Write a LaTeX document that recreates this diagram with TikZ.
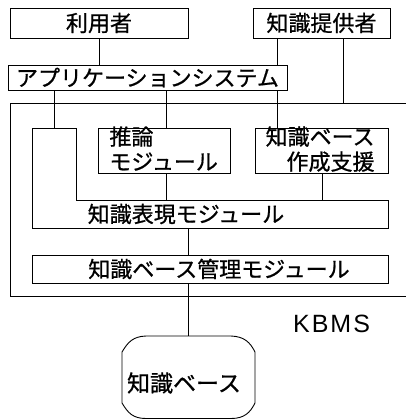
\documentclass[tikz,border=0pt]{standalone}
\usepackage{fontspec}
\setmainfont{Liberation Sans}
\newfontfamily\jp[FakeBold=0.8]{Noto Sans CJK JP}
\begin{document}
\begin{tikzpicture}[x=1pt,y=-1pt,line width=0.9pt,
  box/.style={draw,inner sep=0pt,font=\jp\fontsize{22}{25}\selectfont},
  txt/.style={inner sep=0pt,font=\jp\fontsize{22}{25}\selectfont}]
\useasboundingbox (0,0) rectangle (406,420);
% column coordinates
\coordinate (cA) at (54,0);
\coordinate (cB) at (166,0);
\coordinate (cC) at (277,0);
\coordinate (cD) at (343,0);
\coordinate (cE) at (322,0);
\coordinate (cF) at (188,0);
% top boxes
\node[box,minimum width=178pt,minimum height=30pt] (user) at (99,23) {利用者};
\node[box,minimum width=137pt,minimum height=30pt] (prov) at (321.5,23) {知識提供者};
\node[box,minimum width=279pt,minimum height=25pt] (app) at (147.5,77.5) {アプリケーションシステム};
% outer KBMS frame
\coordinate (outTL) at (10,103);
\coordinate (outBL) at (10,296);
\draw (406,103) -- (outTL) -- (outBL) -- (406,296);
% inner modules
\node[box,minimum width=132pt,minimum height=45pt] (inf) at (164,150.5) {};
\node[txt,anchor=north west,align=left] (inftxt) at (109,126) {推論\\モジュール};
\node[box,minimum width=133pt,minimum height=45pt] (kbs) at (321.5,150.5) {};
\node[txt,anchor=north east,align=right] (kbstxt) at (375,126) {知識ベース\\作成支援};
% knowledge representation module (notched shape)
\coordinate (colTL) at (32,128);
\coordinate (colTR) at (76,128);
\coordinate (repTop) at (76,200);
\coordinate (repBot) at (32,228);
\draw (colTL) -- (colTR) -- (repTop) -- (388,200) -- (388,228) -- (repBot) -- cycle;
\node[txt] (rep) at (186,214) {知識表現モジュール};
% management module
\node[box,minimum width=356pt,minimum height=28pt] (mgr) at (210,269) {};
\node[txt] (mgrtxt) at (219,269) {知識ベース管理モジュール};
% KBMS label
\node[inner sep=0pt,font=\fontsize{25}{25}\selectfont] (kbms) at (331.5,324) {K\kern2pt B\kern2pt M\kern2pt S};
% knowledge base
\coordinate (kbTop) at (188,336);
\draw (122,352) .. controls (128,342) and (133,336.5) .. (146,336) -- (kbTop) -- (231,336)
  .. controls (244,336.5) and (250,342) .. (255,352) -- (255,403)
  .. controls (250,413) and (244,418.5) .. (231,418.5) -- (146,418.5)
  .. controls (133,418.5) and (128,413) .. (122,403) -- cycle;
\node[txt,font=\jp\fontsize{23}{25}\selectfont] (kb) at (184,383) {知識ベース};
% connectors
\draw (user.south) -- (user.south |- app.north);
\draw (prov.south -| cC) -- (app.north -| cC);
\draw (prov.south -| cD) -- (outTL -| cD);
\draw (app.south -| cA) -- (colTL -| cA);
\draw (app.south -| cB) -- (inf.north -| cB);
\draw (app.south -| cC) -- (kbs.north -| cC);
\draw (inf.south -| cB) -- (repTop -| cB);
\draw (kbs.south -| cE) -- (repTop -| cE);
\draw (repBot -| cF) -- (mgr.north -| cF);
\draw (mgr.south -| cF) -- (kbTop);
\end{tikzpicture}
\end{document}
